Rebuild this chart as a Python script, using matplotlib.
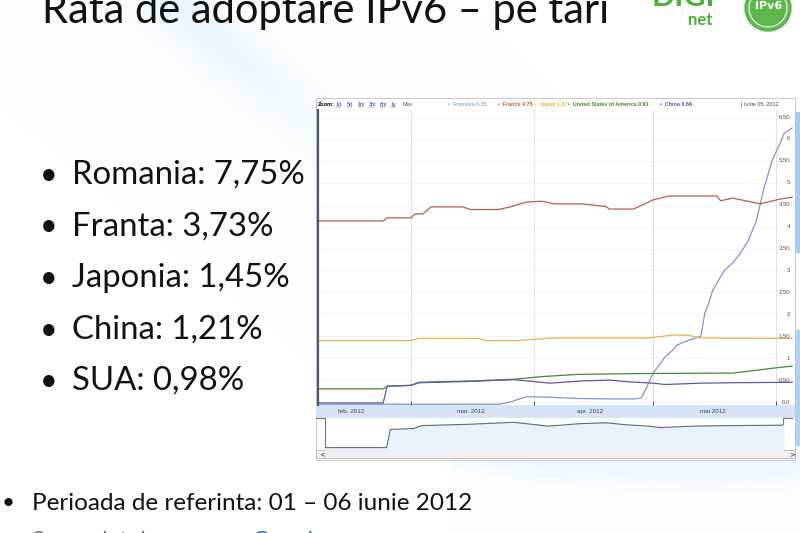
import matplotlib.pyplot as plt
import numpy as np
from matplotlib.patches import Circle, Rectangle
import matplotlib.transforms as mtransforms

W, H = 800, 533

# slide texts
title = "Rata de adoptare IPv6 – pe tari"
bullets = ["Romania: 7,75%", "Franta: 3,73%", "Japonia: 1,45%", "China: 1,21%", "SUA: 0,98%"]
period = "Perioada de referinta: 01 – 06 iunie 2012"

# chart legend / axis labels
legend_names = ["Romania", "France", "Japan", "United States of America", "China"]
legend_vals = ["6.35", "4.75", "1.37", "0.91", "0.66"]
legend_date = "Iunie 05, 2012"
zoom_links = ["1d", "5d", "1m", "3m", "6m", "1y"]
month_labels = ["feb. 2012", "mar. 2012", "apr. 2012", "mai 2012"]
month_mid = ["2012-02-15", "2012-03-16", "2012-04-15", "2012-05-16"]
month_starts = ["2012-03-01", "2012-04-01", "2012-05-01", "2012-06-01"]
ytick_vals = [0, 0.5, 1, 1.5, 2, 2.5, 3, 3.5, 4, 4.5, 5, 5.5, 6, 6.5]
ytick_text = ["0.0", "0.50", "1", "1.50", "2", "2.50", "3", "3.50", "4", "4.50", "5", "5.50", "6", "6.50"]

# series (percent of users on IPv6)
romania_dates = ["2012-02-07", "2012-03-23", "2012-03-26", "2012-03-30", "2012-04-05", "2012-04-12",
                 "2012-04-20", "2012-04-26", "2012-04-28", "2012-04-29", "2012-05-01", "2012-05-04",
                 "2012-05-06", "2012-05-07", "2012-05-10", "2012-05-13", "2012-05-14", "2012-05-15",
                 "2012-05-16", "2012-05-18", "2012-05-19", "2012-05-21", "2012-05-23", "2012-05-25",
                 "2012-05-27", "2012-05-29", "2012-05-31", "2012-06-02", "2012-06-03", "2012-06-05"]
romania_vals = [-0.05, -0.05, 0.0, 0.12, 0.11, 0.08, 0.07, 0.07, 0.09, 0.27, 0.66, 1.03,
                1.19, 1.30, 1.41, 1.50, 2.03, 2.26, 2.55, 2.86, 3.01, 3.17, 3.40, 3.69,
                4.15, 4.91, 5.52, 5.91, 6.13, 6.25]

france_dates = ["2012-02-07", "2012-02-23", "2012-02-24", "2012-03-01", "2012-03-02", "2012-03-04",
                "2012-03-06", "2012-03-14", "2012-03-16", "2012-03-23", "2012-03-26", "2012-03-30",
                "2012-04-03", "2012-04-06", "2012-04-13", "2012-04-19", "2012-04-20", "2012-04-26",
                "2012-05-01", "2012-05-05", "2012-05-17", "2012-05-18", "2012-05-21", "2012-05-28",
                "2012-06-02", "2012-06-05"]
france_vals = [4.13, 4.13, 4.20, 4.20, 4.29, 4.29, 4.45, 4.45, 4.39, 4.39, 4.45, 4.56,
               4.58, 4.52, 4.52, 4.46, 4.40, 4.40, 4.61, 4.70, 4.70, 4.59, 4.65, 4.52,
               4.63, 4.67]

japan_dates = ["2012-02-07", "2012-03-01", "2012-03-03", "2012-03-18", "2012-03-20", "2012-03-28",
               "2012-04-05", "2012-04-30", "2012-05-06", "2012-05-10", "2012-05-13", "2012-06-05"]
japan_vals = [1.40, 1.40, 1.45, 1.45, 1.40, 1.40, 1.46, 1.46, 1.53, 1.52, 1.46, 1.45]

usa_dates = ["2012-02-07", "2012-02-23", "2012-02-24", "2012-03-01", "2012-03-03", "2012-03-16",
             "2012-03-27", "2012-04-03", "2012-04-12", "2012-04-28", "2012-05-21", "2012-06-01",
             "2012-06-05"]
usa_vals = [0.30, 0.30, 0.36, 0.38, 0.45, 0.48, 0.52, 0.58, 0.63, 0.65, 0.66, 0.78, 0.82]

china_dates = ["2012-02-07", "2012-02-23", "2012-02-24", "2012-03-01", "2012-03-03", "2012-03-16",
               "2012-03-27", "2012-04-05", "2012-04-13", "2012-04-20", "2012-04-25", "2012-05-01",
               "2012-05-04", "2012-05-13", "2012-05-21", "2012-06-05"]
china_vals = [-0.02, -0.02, 0.36, 0.38, 0.44, 0.47, 0.51, 0.43, 0.48, 0.50, 0.46, 0.43,
              0.40, 0.43, 0.44, 0.45]

series = [
    (romania_dates, romania_vals, "#7f95cf"),
    (france_dates, france_vals, "#b4604b"),
    (japan_dates, japan_vals, "#e5b447"),
    (usa_dates, usa_vals, "#3f8a35"),
    (china_dates, china_vals, "#5f57a0"),
]
legend_colors = ["#6f8fe0", "#e0552d", "#f0b030", "#3d8b2a", "#5a4aa0"]

d = lambda s: np.array(s, dtype="datetime64[m]")
x_left = np.datetime64("2012-02-06T14:00")
x_right = np.datetime64("2012-06-05T11:00")

fig = plt.figure(figsize=(8, 5.33), dpi=100)


def px_axes(x0, y0, x1, y1):
    return fig.add_axes([x0 / W, 1 - y1 / H, (x1 - x0) / W, (y1 - y0) / H])


# ---- slide background ----
bg = fig.add_axes([0, 0, 1, 1])
bg.set_xlim(0, W)
bg.set_ylim(H, 0)
bg.axis("off")
yy, xx = np.mgrid[0:H, 0:W]
img = np.ones((H, W, 3))
band = np.exp(-((yy - 0.9 * (xx - 170)) / 45.0) ** 2) * np.exp(-(yy / 150.0) ** 2)
band2 = np.exp(-((yy - 470 + 0.0004 * (xx - 700) ** 2) / 20.0) ** 2) * (xx > 450)
shade = 0.05 * band + 0.04 * band2
img[..., 0] -= shade * 1.6
img[..., 1] -= shade * 0.7
bg.imshow(np.clip(img, 0, 1), extent=(0, W, H, 0), aspect="auto", zorder=0)
bg.add_patch(Rectangle((793, 112), 7, 140, color="#a9cbee", zorder=1))
bg.add_patch(Rectangle((793, 330), 7, 115, color="#b2d0ef", zorder=1))

bg.text(42, 23, title, fontsize=30, family="Lato", va="baseline", color="#111111")
# logo
bg.text(715, 6, "DIGI", fontsize=22, family="Lato", fontweight="bold", color="#4caf3a",
        ha="right", va="baseline")
bg.text(712, 25, "net", fontsize=12, family="Lato", fontweight="bold", color="#4caf3a",
        ha="right", va="baseline")
bg.add_patch(Circle((768, 8), 23, color="#5bb84a", zorder=2))
bg.add_patch(Circle((768, 8), 19, fill=False, ec="white", lw=0.8, zorder=3))
bg.text(769, 6, "IPv6", fontsize=8, color="white", fontweight="bold", ha="center", va="center", zorder=4)

for i, b in enumerate(bullets):
    y = 175 + i * 51.5
    bg.text(40, y, "•", fontsize=22, family="Lato", va="center", color="#111111")
    bg.text(72, y, b, fontsize=23.7, family="Lato", va="center", color="#111111")
bg.text(2, 503, "•", fontsize=16, family="Lato", va="center", color="#111111")
bg.text(32, 503, period, fontsize=17.5, family="Lato", va="center", color="#111111")
bg.text(32, 541, "Sursa datelor:", fontsize=17, family="Lato", va="center", color="#777777")
bg.text(252, 541, "Google", fontsize=17, family="Lato", va="center", color="#3b6fd0")

# ---- chart widget frame ----
bg.add_patch(Rectangle((316, 98), 479, 362, fc="white", ec="#c0c0c0", lw=0.6, zorder=2))
bg.add_patch(Rectangle((316, 405), 479, 13, fc="#d6e4f6", ec="none", zorder=3))
bg.add_patch(Rectangle((316, 450), 479, 8, fc="#f0f0f0", ec="#aaaaaa", lw=0.5, zorder=3))
bg.text(319, 454, "<", fontsize=5, va="center", color="#333333", zorder=4)
bg.text(789, 454, ">", fontsize=5, va="center", color="#333333", zorder=4)
bg.plot([316, 325, 325], [418, 418, 450], color="#777777", lw=0.8, zorder=4)
bg.plot([792, 783, 783], [418, 418, 450], color="#777777", lw=0.8, zorder=4)

# header with zoom links and legend
hd = px_axes(316, 99, 795, 110)
hd.set_xlim(316, 795)
hd.set_ylim(110, 99)
hd.axis("off")
fs = 3.9
hd.text(318, 104.5, "Zoom:", fontsize=fs, fontweight="bold", va="center", family="Liberation Sans")
for i, z in enumerate(zoom_links):
    hd.text(336 + i * 11, 104.5, z, fontsize=fs, va="center", color="#2233aa",
            family="Liberation Sans")
    hd.plot([336 + i * 11, 341 + i * 11], [107, 107], color="#2233aa", lw=0.3)
hd.text(403, 104.5, "Max", fontsize=fs, va="center", color="#555555", family="Liberation Sans")
leg_x = [448, 498, 535, 568, 660]
for x, n, v, c in zip(leg_x, legend_names, legend_vals, legend_colors):
    hd.text(x, 104.5, "•  " + n + " " + v, fontsize=fs, va="center", color=c,
            fontweight="bold" if n != "Romania" else "normal", family="Liberation Sans")
hd.text(741, 104.5, "| " + legend_date, fontsize=fs, va="center", color="#444444",
        family="Liberation Sans")
hd.plot([316, 795], [110, 110], color="#cccccc", lw=0.6)

# ---- main plot ----
ax = px_axes(318, 110, 794, 405)
ax.set_xlim(x_left, x_right)
ax.set_ylim(-0.068, 6.66)
ax.set_facecolor("white")
for yv in ytick_vals:
    ax.axhline(yv, color="#f1f1f1", lw=0.5, zorder=0)
for m in month_starts:
    ax.axvline(np.datetime64(m), color="#dddddd", lw=0.6, zorder=0)
for dates, vals, c in series:
    ax.plot(d(dates), vals, color=c, lw=0.9, zorder=2)
ax.set_xticks(d(month_starts))
ax.set_xticklabels([])
ax.tick_params(axis="x", direction="in", length=3, width=0.6, color="#333333")
ax.set_yticks([])
for s in ["top", "right", "bottom"]:
    ax.spines[s].set_visible(False)
ax.spines["left"].set_color("#4d5b6e")
ax.spines["left"].set_linewidth(1.6)
trans = mtransforms.blended_transform_factory(ax.transAxes, ax.transData)
for yv, t in zip(ytick_vals, ytick_text):
    ax.text(0.992, yv, t, transform=trans, ha="right", va="center", fontsize=4.3,
            color="#555555", family="Liberation Sans", zorder=3)

# month label band
mb = px_axes(318, 405, 794, 418)
mb.set_xlim(x_left, x_right)
mb.set_ylim(0, 1)
mb.axis("off")
for lab, m in zip(month_labels, month_mid):
    mb.text(np.datetime64(m), 0.5, lab, ha="center", va="center", fontsize=4.5,
            color="#334466", family="Liberation Sans")

# navigator (China overview)
nv = px_axes(325, 418, 783, 450)
nv.set_xlim(np.datetime64("2012-02-07"), np.datetime64("2012-06-05"))
nv.set_ylim(-0.07, 0.6)
nv.fill_between(d(china_dates), china_vals, -0.07, color="#e9f1fb")
nv.plot(d(china_dates), china_vals, color="#5b6b80", lw=0.8)
nv.axis("off")

fig.savefig("out.png", dpi=100)
